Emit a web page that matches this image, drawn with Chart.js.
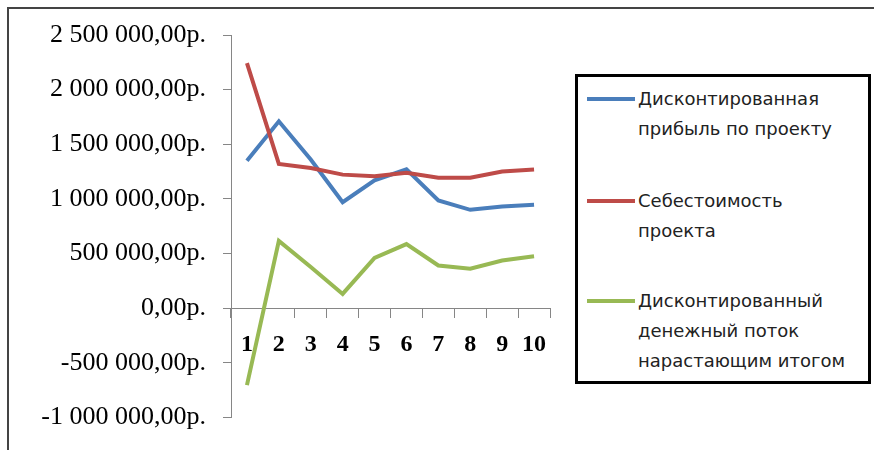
<!DOCTYPE html>
<html><head><meta charset="utf-8">
<script src="https://cdn.jsdelivr.net/npm/chart.js@4"></script>
<style>
html,body{margin:0;padding:0;background:#fff;width:874px;height:450px;overflow:hidden;}
#wrap{position:relative;width:874px;height:450px;}
#frame{position:absolute;left:7px;top:7px;width:880px;height:460px;border:2px solid #444;}
#c{position:absolute;left:0;top:0;}
#legend{position:absolute;left:575px;top:74px;width:290px;height:304px;border:3px solid #000;background:#fff;font-family:'DejaVu Sans',sans-serif;font-size:18px;color:#222;}
.sw{position:absolute;left:9px;width:48px;height:4px;}
.tx{position:absolute;left:60px;line-height:30px;white-space:nowrap;}
</style></head>
<body>
<div id="wrap">
<div id="frame"></div>
<canvas id="c" width="874" height="450"></canvas>
<div id="legend"></div>
</div>
<script>
const categories = ['1','2','3','4','5','6','7','8','9','10'];
const profitValues   = [1350000, 1710000, 1360000, 970000, 1170000, 1270000, 985000, 900000, 930000, 946000];
const costValues     = [2243000, 1320000, 1283000, 1222000, 1207000, 1240000, 1193000, 1193000, 1250000, 1270000];
const cashFlowValues = [-705000, 616000, 376000, 130000, 460000, 586000, 390000, 360000, 436000, 475000];
const profitName   = ['Дисконтированная', 'прибыль по проекту'];
const costName     = ['Себестоимость', 'проекта'];
const cashFlowName = ['Дисконтированный', 'денежный поток', 'нарастающим итогом'];
const yMin = -1000000, yMax = 2500000, yStep = 500000;

const colors = ['#4a7ebb', '#be4b48', '#98b954'];

function rub(v){
  const neg = v < 0;
  const s = Math.abs(Math.round(v)).toString().replace(/\B(?=(\d{3})+(?!\d))/g, ' ');
  return (neg ? '-' : '') + s + ',00р.';
}

const series = [
  {name: profitName, data: profitValues, order: 3},
  {name: costName, data: costValues, order: 2},
  {name: cashFlowName, data: cashFlowValues, order: 1}
];

new Chart(document.getElementById('c'), {
  type: 'line',
  data: {
    labels: categories,
    datasets: series.map((s, i) => ({
      label: s.name.join(' '),
      data: s.data,
      borderColor: colors[i],
      backgroundColor: colors[i],
      borderWidth: 4,
      pointRadius: 0,
      tension: 0,
      fill: false,
      order: s.order,
      borderJoinStyle: 'miter'
    }))
  },
  options: {
    responsive: false,
    animation: false,
    devicePixelRatio: 1,
    layout: {padding: {left: 0, right: 324, top: 35, bottom: 27}},
    plugins: {legend: {display: false}, tooltip: {enabled: false}},
    scales: {
      x: {
        type: 'category',
        position: {y: 0},
        offset: true,
        grid: {offset: true, drawOnChartArea: false, drawTicks: true, tickLength: 9, color: '#868686'},
        border: {color: '#868686', width: 1},
        ticks: {font: {family: 'Liberation Serif', size: 24, weight: 'bold'}, color: '#000', padding: 13, maxRotation: 0, autoSkip: false},
        afterFit(s){ s.height = 0; }
      },
      y: {
        min: yMin, max: yMax,
        grid: {drawOnChartArea: false, tickLength: 8, color: '#868686'},
        border: {color: '#868686', width: 1},
        ticks: {stepSize: yStep, callback: v => rub(v), font: {family: 'Liberation Serif', size: 26}, color: '#000', padding: 17},
        afterFit(s){ s.width = 231; }
      }
    }
  }
});

const lg = document.getElementById('legend');
const itemTops = [7, 109, 209];
series.forEach((s, i) => {
  const sw = document.createElement('div');
  sw.className = 'sw';
  sw.style.top = (itemTops[i] + 13) + 'px';
  sw.style.background = colors[i];
  lg.appendChild(sw);
  const tx = document.createElement('div');
  tx.className = 'tx';
  tx.style.top = itemTops[i] + 'px';
  tx.innerHTML = s.name.join('<br>');
  lg.appendChild(tx);
});
</script>
</body></html>
